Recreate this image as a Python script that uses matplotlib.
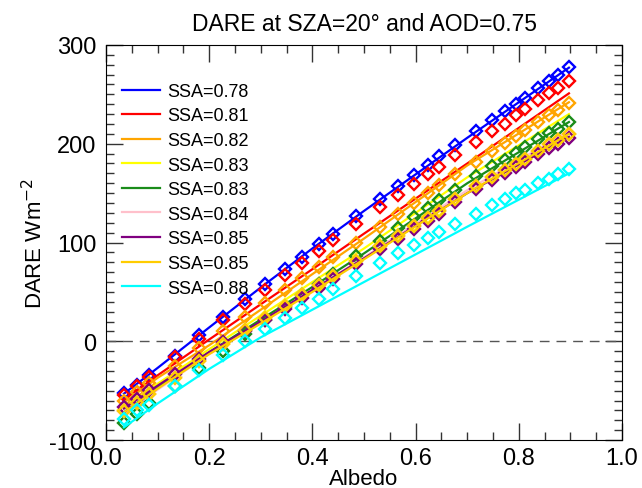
import numpy as np
import matplotlib.pyplot as plt

plt.rcParams['font.family'] = ['Liberation Sans', 'DejaVu Sans']
plt.rcParams['axes.unicode_minus'] = False

# albedo of the measured points (shared by every SSA case)
albedo = [0.035, 0.061, 0.084, 0.133, 0.180, 0.227, 0.270, 0.309, 0.346, 0.380,
          0.412, 0.439, 0.485, 0.531, 0.566, 0.597, 0.623, 0.646, 0.676, 0.716,
          0.748, 0.773, 0.794, 0.811, 0.838, 0.859, 0.875, 0.897]

# DARE of the points (W m-2)
dare_078 = [-52, -44.6, -34, -14.5, 6.2, 25, 42.5, 58.4, 72.9, 85.8, 98.9, 109.1, 126.5, 143.8,
            157.3, 168.4, 178.2, 187.6, 198.8, 213.0, 224.5, 233.2, 240.7, 246.8, 256.9, 263.6, 269.4, 277.2]
dare_081 = [-54.7, -45.3, -36, -16.2, 2.7, 21.3, 37.5, 52.3, 67.2, 79.7, 91, 102.3, 119, 135.5,
            148.2, 159.7, 169.1, 176.9, 188.4, 202.2, 213.0, 220.0, 229.2, 234.9, 244.1, 251.1, 256.2, 263.6]
dare_082 = [-60, -51, -42, -25, -7, 10, 25, 39, 52, 64, 75, 85, 100, 116,
            129, 140, 150, 158, 169, 182, 192.7, 201, 207.9, 213.7, 222.1, 228.9, 233.9, 241.7]
dare_083a = [-70, -61.5, -53, -36, -19.5, -2.5, 11.5, 24.5, 36.5, 47.5, 57.5, 66.5, 81.5, 96.5,
             107.5, 117.5, 125.5, 132.5, 144.5, 157, 166, 173, 179, 185, 192.7, 199.5, 203.5, 209.6]
dare_083b = [-83, -74, -62, -45, -27, -10, 7, 22, 35, 47, 58, 68, 86, 102,
             115, 126, 135, 143, 153, 167, 177, 184, 191, 197, 205, 211, 215, 222]
dare_084 = [-70.5, -62, -53.5, -36.5, -20, -3, 11, 24, 36, 47, 57, 66, 81, 96,
            107, 117, 125, 132, 144, 157, 166, 173, 179, 185, 192.7, 199.5, 203.5, 209.6]
dare_085a = [-66.5, -58, -49.6, -33.4, -18, -1, 10, 22, 33, 44, 54, 63, 78, 93,
             104, 114, 122, 129, 141, 154, 163, 170, 176, 182, 190, 196, 200, 206]
dare_085b = [-70.6, -62, -53.7, -36.8, -20, -3, 11, 24, 36, 47, 57, 66, 81, 96,
             107, 117, 125, 132, 144, 157, 166, 173, 179, 185, 192.7, 199.5, 203.5, 209.6]
dare_088 = [-79, -70, -64, -45, -29, -14, 0.3, 12.8, 24, 34, 43.2, 52.7, 66, 79,
            89, 97.5, 104.3, 111, 118.5, 128.6, 137.7, 143.8, 149.9, 153.2, 160.7, 164.8, 169.1, 174.2]

# fitted curves
albedo_fit = [0.035, 0.1, 0.2, 0.3, 0.4, 0.5, 0.7, 0.897]
fit_078 = [-53, -27, 14, 54.5, 94, 132, 206, 277]
fit_081 = [-59, -34.5, 1.8, 37.5, 73, 109, 180, 251]
fit_082 = [-62, -37, -4, 32, 68, 104, 178, 242]
fit_083a = [-68, -43, -8, 26, 60, 94, 166, 230]
fit_083b = [-72, -47, -11, 22, 55, 89, 160, 222]
fit_084 = [-74, -49, -13, 19, 52, 85, 153, 213]
fit_085a = [-68, -45, -11, 20, 52, 84, 150, 207]
fit_085b = [-72, -48, -13, 18, 50, 83, 150, 210]
fit_088 = [-87, -63, -28, 4, 32, 60, 116, 170]

ssa_labels = ['SSA=0.78', 'SSA=0.81', 'SSA=0.82', 'SSA=0.83', 'SSA=0.83',
              'SSA=0.84', 'SSA=0.85', 'SSA=0.85', 'SSA=0.88']
colors = ['#0000ff', '#ff0000', '#ffa500', '#ffff00', '#1a8c1a',
          '#ffc0cb', '#800080', '#ffcc00', '#00ffff']
points = [dare_078, dare_081, dare_082, dare_083a, dare_083b,
          dare_084, dare_085a, dare_085b, dare_088]
fits = [fit_078, fit_081, fit_082, fit_083a, fit_083b,
        fit_084, fit_085a, fit_085b, fit_088]

fig = plt.figure(figsize=(6.42, 4.89), dpi=100)
ax = fig.add_axes([0.165, 0.098, 0.804, 0.808])

ax.axhline(0, color='#555555', lw=1, ls=(0, (7, 5)))

handles = []
for lab, c, pts, ft in zip(ssa_labels, colors, points, fits):
    ln, = ax.plot(albedo_fit, ft, color=c, lw=1.6, label=lab)
    ax.plot(albedo, pts, ls='none', marker='D', ms=6, mfc='none',
            mec=c, mew=1.7)
    handles.append(ln)

ax.set_xlim(0, 1)
ax.set_ylim(-100, 300)
ax.set_xticks(np.arange(0, 1.01, 0.2))
ax.set_xticklabels(['%.1f' % v for v in np.arange(0, 1.01, 0.2)])
ax.set_xticks(np.arange(0, 1.01, 0.05), minor=True)
ax.set_yticks([-100, 0, 100, 200, 300])
ax.set_yticks(np.arange(-100, 301, 10), minor=True)
ax.tick_params(which='both', direction='in', top=True, right=True,
               labelsize=17, color='#333333')
ax.tick_params(which='major', length=12, width=1)
ax.tick_params(which='minor', length=5.5, width=1)
ax.tick_params(axis='x', pad=5)
ax.tick_params(axis='y', pad=7)

ax.set_xlabel('Albedo', fontsize=16, labelpad=-1)
ax.set_ylabel('DARE Wm$^{-2}$', fontsize=16, labelpad=1)
ax.set_title('DARE at SZA=20° and AOD=0.75', fontsize=16.5, pad=11)

ax.legend(handles=handles, loc='upper left', bbox_to_anchor=(0.031, 0.904),
          frameon=False, fontsize=13, borderpad=0, borderaxespad=0,
          handlelength=2.1, handletextpad=0.4, labelspacing=0.42)

fig.savefig('out.png', dpi=100)
